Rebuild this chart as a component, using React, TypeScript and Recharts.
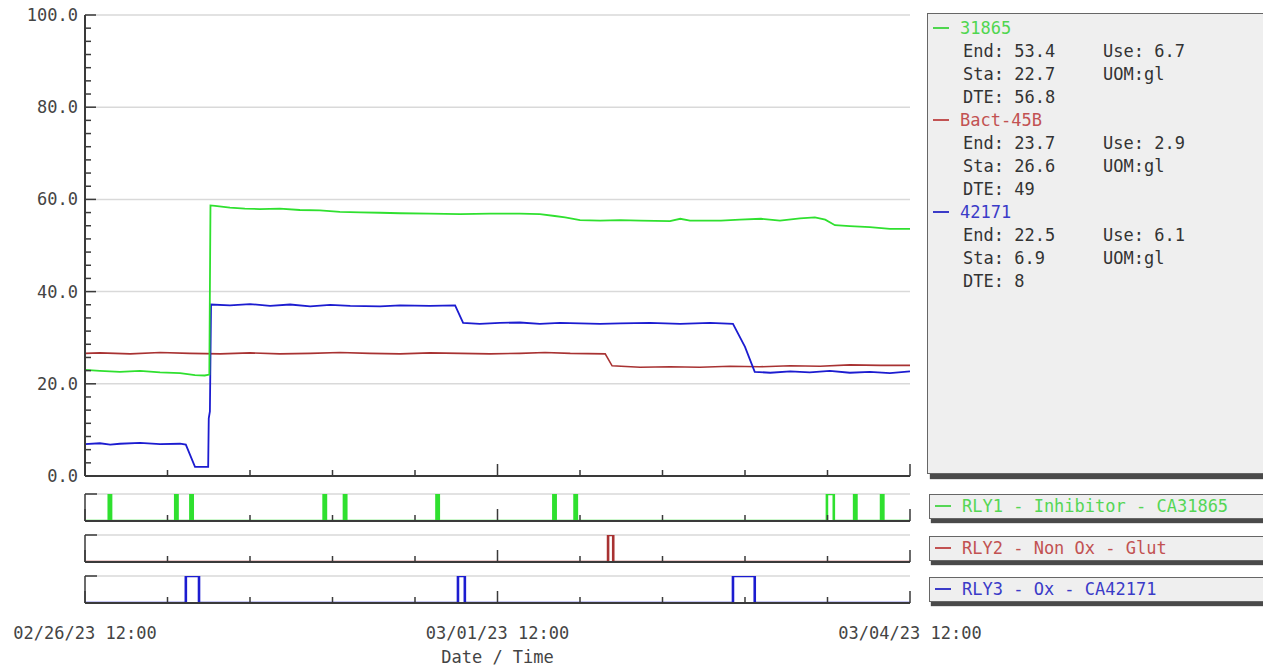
import { CartesianGrid, Label, Line, LineChart, XAxis, YAxis } from "recharts";

// time axis in hours from 02/26/23 12:00
const xMinorTicks = [0, 14.4, 28.8, 43.2, 57.6, 72, 86.4, 100.8, 115.2, 129.6, 144];
const xMajorTicks = [0, 72, 144];
const xLabels = ["02/26/23 12:00", "03/01/23 12:00", "03/04/23 12:00"];
const yMajorTicks = [0, 20, 40, 60, 80, 100];
const yMinorTicks = Array.from({ length: 36 }, (_, i) => (i * 20) / 7);

const green31865: [number, number][] = [
  [0, 23.0], [2.6, 22.8], [6.1, 22.6], [9.6, 22.8], [13.1, 22.5], [16.6, 22.3],
  [19.2, 21.9], [20.9, 21.8], [21.7, 22.0], [21.9, 58.7], [22.7, 58.6], [25.3, 58.2],
  [27.9, 58.0], [30.5, 57.9], [34.0, 58.0], [37.5, 57.7], [41.0, 57.6], [44.5, 57.3],
  [48.0, 57.2], [51.5, 57.1], [55.0, 57.0], [60.2, 56.9], [65.5, 56.8], [70.7, 56.9],
  [75.9, 56.9], [79.4, 56.8], [82.0, 56.4], [83.8, 56.1], [86.4, 55.5], [89.9, 55.4],
  [93.4, 55.5], [96.9, 55.4], [102.1, 55.3], [103.9, 55.8], [105.6, 55.4], [111.0, 55.4],
  [114.3, 55.6], [118.0, 55.8], [121.3, 55.4], [124.8, 55.9], [127.4, 56.1], [129.2, 55.6],
  [130.9, 54.4], [133.5, 54.2], [137.0, 54.0], [140.5, 53.6], [144, 53.6],
];

const red45B: [number, number][] = [
  [0, 26.6], [2.6, 26.7], [7.9, 26.5], [13.1, 26.8], [18.3, 26.6], [23.6, 26.5],
  [28.8, 26.7], [34.0, 26.5], [39.3, 26.6], [44.5, 26.8], [49.7, 26.6], [55.0, 26.5],
  [60.2, 26.7], [65.5, 26.6], [70.7, 26.5], [75.9, 26.6], [80.3, 26.8], [84.7, 26.6],
  [90.8, 26.5], [92.0, 23.9], [96.9, 23.6], [102.1, 23.7], [107.3, 23.6], [112.6, 23.8],
  [117.8, 23.7], [123.1, 23.9], [128.3, 23.8], [133.5, 24.1], [138.8, 24.0], [144, 24.0],
];

const blue42171: [number, number][] = [
  [0, 6.9], [2.6, 7.1], [4.4, 6.8], [6.1, 7.0], [9.6, 7.2], [13.1, 6.9], [16.6, 7.0],
  [17.6, 6.8], [19.2, 2.0], [20.9, 2.0], [21.5, 2.0], [21.6, 12.5], [21.8, 14.0],
  [22.0, 37.2], [25.3, 37.0], [28.8, 37.3], [32.3, 36.9], [35.8, 37.2], [39.3, 36.8],
  [42.8, 37.1], [46.3, 36.9], [51.5, 36.8], [55.0, 37.0], [60.2, 36.9], [64.6, 37.0],
  [66.0, 33.2], [68.9, 33.0], [72.4, 33.2], [75.9, 33.3], [79.4, 33.0], [82.9, 33.2],
  [86.4, 33.1], [89.9, 33.0], [93.4, 33.1], [98.6, 33.2], [103.9, 33.0], [109.1, 33.2],
  [113.1, 33.0], [115.2, 28.0], [116.9, 22.6], [119.6, 22.4], [123.1, 22.7], [126.5, 22.5],
  [130.0, 22.8], [133.5, 22.4], [137.0, 22.6], [140.5, 22.3], [144, 22.7],
];

// relay on-periods [start, end] in hours
const rly1Pulses: [number, number][] = [
  [4.15, 4.55], [15.75, 16.15], [18.4, 18.8], [41.65, 42.05], [45.2, 45.6], [61.35, 61.75],
  [81.75, 82.15], [85.45, 85.85], [129.5, 130.7], [134.25, 134.65], [138.95, 139.35],
];
const rly2Pulses: [number, number][] = [[91.3, 92.2]];
const rly3Pulses: [number, number][] = [[17.6, 19.9], [65.1, 66.3], [113.1, 116.9]];

const legendGroups = [
  { name: "31865", color: "#4fd64f", end: "53.4", use: "6.7", sta: "22.7", dte: "56.8" },
  { name: "Bact-45B", color: "#c25252", end: "23.7", use: "2.9", sta: "26.6", dte: "49" },
  { name: "42171", color: "#3b3bc8", end: "22.5", use: "6.1", sta: "6.9", dte: "8" },
];

const relays = [
  { label: "RLY1 - Inhibitor - CA31865", color: "#2fe02f", text: "#55d655", pulses: rly1Pulses },
  { label: "RLY2 - Non Ox - Glut", color: "#a83232", text: "#c25252", pulses: rly2Pulses },
  { label: "RLY3 - Ox - CA42171", color: "#1c1cd0", text: "#3b3bc8", pulses: rly3Pulses },
];

const GREEN = "#2fe02f";
const RED = "#a83232";
const BLUE = "#1c1cd0";
const AXIS = "#3a3a3a";
const GRID = "#d9d9d9";
const FONT = "DejaVu Sans Mono";
const TEXT = "#444";

const toPts = (arr: [number, number][]) => arr.map(([h, v]) => ({ h, v }));

function pulseData(pulses: [number, number][]) {
  const pts = [{ h: 0, v: 0 }];
  pulses.forEach(([a, b]) => {
    pts.push({ h: a, v: 1 });
    pts.push({ h: b, v: 0 });
  });
  pts.push({ h: 144, v: 0 });
  return pts;
}

const isMajorX = (v: number) => xMajorTicks.some((m) => Math.abs(m - v) < 0.01);
const isMajorY = (v: number) => yMajorTicks.some((m) => Math.abs(m - v) < 0.01);

// x ticks point up into the plot; labels only on the bottom panel
function TimeTick(props: any, showLabels: boolean) {
  const { x, y, payload } = props;
  const major = isMajorX(payload.value);
  const len = major ? 12 : 6;
  const li = xMajorTicks.findIndex((m) => Math.abs(m - payload.value) < 0.01);
  return (
    <g>
      <line x1={x} x2={x} y1={y} y2={y - len} stroke={AXIS} strokeWidth={1.5} />
      {showLabels && major && (
        <text x={x} y={y + 36} textAnchor="middle" fontFamily={FONT} fontSize={17} fill={TEXT}>
          {xLabels[li]}
        </text>
      )}
    </g>
  );
}

function ValueTick(props: any) {
  const { x, y, payload } = props;
  const major = isMajorY(payload.value);
  return (
    <g>
      <line x1={x} x2={x + (major ? 11 : 6)} y1={y} y2={y} stroke={AXIS} strokeWidth={1.5} />
      {major && (
        <text x={x - 7} y={y} dy="0.35em" textAnchor="end" fontFamily={FONT} fontSize={17} fill={TEXT}>
          {payload.value.toFixed(1)}
        </text>
      )}
    </g>
  );
}

function RelayTick(props: any) {
  const { x, y } = props;
  return <line x1={x} x2={x + 12} y1={y} y2={y} stroke={AXIS} strokeWidth={1.5} />;
}

const boxStyle: React.CSSProperties = {
  position: "absolute",
  left: 927,
  width: 340,
  background: "#efefef",
  border: "1px solid #666",
  boxShadow: "3px 5px 1px #4a4a4a",
  fontFamily: FONT,
  fontSize: 17,
  color: "#333",
  boxSizing: "border-box",
};

function Dash({ color }: { color: string }) {
  return (
    <span
      style={{
        display: "inline-block",
        width: 16,
        height: 2,
        background: color,
        verticalAlign: "middle",
        marginRight: 11,
        marginBottom: 2,
      }}
    />
  );
}

function MainLegend() {
  return (
    <div style={{ ...boxStyle, top: 13, height: 461, padding: "3px 0 0 5px", lineHeight: "23px" }}>
      {legendGroups.map((g) => (
        <div key={g.name}>
          <div style={{ color: g.color }}>
            <Dash color={g.color} />
            {g.name}
          </div>
          <div style={{ display: "flex", paddingLeft: 30 }}>
            <span style={{ width: 140 }}>End: {g.end}</span>
            <span>Use: {g.use}</span>
          </div>
          <div style={{ display: "flex", paddingLeft: 30 }}>
            <span style={{ width: 140 }}>Sta: {g.sta}</span>
            <span>UOM:gl</span>
          </div>
          <div style={{ paddingLeft: 30 }}>DTE: {g.dte}</div>
        </div>
      ))}
    </div>
  );
}

function RelayChart({ idx, top }: { idx: number; top: number }) {
  const r = relays[idx];
  const last = idx === relays.length - 1;
  // the bottom panel is wider so the last date label is not clipped
  const extra = last ? 80 : 0;
  return (
    <div style={{ position: "absolute", left: 0, top: top - 5 }}>
      <LineChart
        width={930 + extra}
        height={last ? 96 : 37}
        margin={{ top: 5, right: 20 + extra, left: 0, bottom: 0 }}
      >
        <CartesianGrid horizontal vertical={false} stroke={GRID} strokeWidth={1.5} />
        <XAxis
          type="number"
          dataKey="h"
          domain={[0, 144]}
          allowDataOverflow
          ticks={xMinorTicks}
          interval={0}
          height={last ? 64 : 5}
          tickSize={0}
          tickMargin={0}
          tickLine={false}
          axisLine={{ stroke: AXIS, strokeWidth: 2 }}
          tick={(p: any) => TimeTick(p, last)}
        >
          {last && (
            <Label
              value="Date / Time"
              position="insideBottom"
              offset={4}
              style={{ fontFamily: FONT, fontSize: 17, fill: TEXT }}
            />
          )}
        </XAxis>
        <YAxis
          type="number"
          domain={[0, 1]}
          allowDataOverflow
          ticks={[1]}
          interval={0}
          width={85}
          tickSize={0}
          tickMargin={0}
          tickLine={false}
          axisLine={{ stroke: AXIS, strokeWidth: 1.5 }}
          tick={RelayTick}
        />
        <Line
          data={pulseData(r.pulses)}
          dataKey="v"
          type="stepAfter"
          stroke={r.color}
          strokeWidth={2.6}
          dot={false}
          activeDot={false}
          isAnimationActive={false}
        />
      </LineChart>
    </div>
  );
}

function RelayLegend({ idx, top }: { idx: number; top: number }) {
  const r = relays[idx];
  return (
    <div
      style={{
        ...boxStyle,
        left: 929,
        top,
        height: 25,
        lineHeight: "23px",
        paddingLeft: 5,
        color: r.text,
        boxShadow: "2px 4px 1px #4a4a4a",
      }}
    >
      <Dash color={r.text} />
      {r.label}
    </div>
  );
}

export default function App() {
  return (
    <div
      style={{
        position: "absolute",
        left: 0,
        top: 0,
        width: 1263,
        height: 670,
        background: "#fff",
        overflow: "hidden",
      }}
    >
      <div style={{ position: "absolute", left: 0, top: 0 }}>
        <LineChart width={930} height={490} margin={{ top: 15, right: 20, left: 0, bottom: 0 }}>
          <CartesianGrid horizontal vertical={false} stroke={GRID} strokeWidth={1.5} horizontalValues={yMajorTicks} />
          <XAxis
            type="number"
            dataKey="h"
            domain={[0, 144]}
            allowDataOverflow
            ticks={xMinorTicks}
            interval={0}
            height={14}
            tickSize={0}
            tickMargin={0}
            tickLine={false}
            axisLine={{ stroke: AXIS, strokeWidth: 2 }}
            tick={(p: any) => TimeTick(p, false)}
          />
          <YAxis
            type="number"
            domain={[0, 100]}
            allowDataOverflow
            ticks={yMinorTicks}
            interval={0}
            width={85}
            tickSize={0}
            tickMargin={0}
            tickLine={false}
            axisLine={{ stroke: AXIS, strokeWidth: 2 }}
            tick={ValueTick}
          />
          <Line data={toPts(red45B)} dataKey="v" stroke={RED} strokeWidth={1.6} dot={false} activeDot={false} isAnimationActive={false} />
          <Line data={toPts(blue42171)} dataKey="v" stroke={BLUE} strokeWidth={1.8} dot={false} activeDot={false} isAnimationActive={false} />
          <Line data={toPts(green31865)} dataKey="v" stroke={GREEN} strokeWidth={1.8} dot={false} activeDot={false} isAnimationActive={false} />
        </LineChart>
      </div>
      <MainLegend />
      <RelayChart idx={0} top={494} />
      <RelayChart idx={1} top={535} />
      <RelayChart idx={2} top={576} />
      <RelayLegend idx={0} top={494} />
      <RelayLegend idx={1} top={536} />
      <RelayLegend idx={2} top={577} />
    </div>
  );
}
